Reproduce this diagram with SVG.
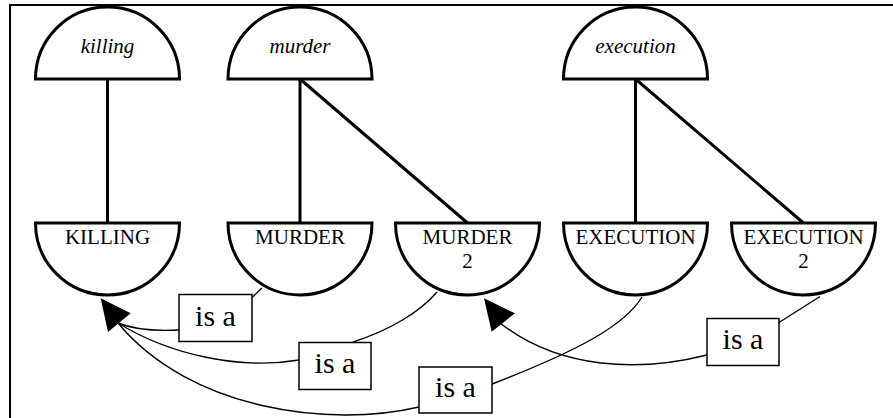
<svg xmlns="http://www.w3.org/2000/svg" width="893" height="418" viewBox="0 0 893 418">
  <style>
    .frame { fill: none; stroke: #000; stroke-width: 2; }
    .half { fill: #fff; stroke: #000; stroke-width: 3; stroke-linejoin: miter; }
    .stem { fill: none; stroke: #000; stroke-width: 3; }
    .link { fill: none; stroke: #000; stroke-width: 1.4; }
    .head { fill: #000; stroke: none; }
    .box { fill: #fff; stroke: #000; stroke-width: 1.5; }
    text { font-family: "Liberation Serif", "Times New Roman", serif; text-anchor: middle; fill: #000; }
    .word { font-style: italic; font-size: 21px; }
    .concept { font-size: 21px; }
    .rel { font-size: 30px; }
  </style>
  <rect width="893" height="418" fill="#fff"/>
  <rect class="frame" x="10" y="5" width="900" height="450"/>

  <!-- structural links between words and concepts -->
  <g id="connectors">
    <line class="stem" x1="107.5" y1="79" x2="107.5" y2="223"/>
    <line class="stem" x1="300" y1="79" x2="300" y2="223"/>
    <line class="stem" x1="300" y1="79" x2="467.5" y2="223"/>
    <line class="stem" x1="635.5" y1="79" x2="635.5" y2="223"/>
    <line class="stem" x1="635.5" y1="79" x2="803.5" y2="223"/>

    <!-- is-a relations -->
    <line class="link" x1="262" y1="288" x2="252" y2="297.5"/>
    <path class="link" d="M 179,330 C 160,331 135,330 118,323"/>
    <path class="link" d="M 437,292 C 420,312 390,330 353,342"/>
    <path class="link" d="M 299,360 C 240,370 170,355 118,323"/>
    <path class="link" d="M 642,297 C 625,325 580,350 492,384"/>
    <path class="link" d="M 419,407 C 330,428 190,410 118,323"/>
    <line class="link" x1="820" y1="296.5" x2="779" y2="322.5"/>
    <path class="link" d="M 707,355 C 640,372 560,370 500,323"/>
    <polygon class="head" points="100.7,298.3 108,332 130.7,313.3"/>
    <polygon class="head" points="484,298.3 491.7,331.7 515,313.3"/>
  </g>

  <!-- word nodes -->
  <g id="word-killing">
    <path class="half" d="M 35.5,79 A 72 72 0 0 1 179.5,79 Z"/>
    <text class="word" font-family="Liberation Serif" x="107.5" y="53">killing</text>
  </g>
  <g id="word-murder">
    <path class="half" d="M 228,79 A 72 72 0 0 1 372,79 Z"/>
    <text class="word" font-family="Liberation Serif" x="300" y="53">murder</text>
  </g>
  <g id="word-execution">
    <path class="half" d="M 563.5,79 A 72 72 0 0 1 707.5,79 Z"/>
    <text class="word" font-family="Liberation Serif" x="635.5" y="53">execution</text>
  </g>

  <!-- concept nodes -->
  <g id="concept-killing">
    <path class="half" d="M 35.5,223 A 72 72 0 0 0 179.5,223 Z"/>
    <text class="concept" font-family="Liberation Serif" x="107.5" y="244">KILLING</text>
  </g>
  <g id="concept-murder">
    <path class="half" d="M 228,223 A 72 72 0 0 0 372,223 Z"/>
    <text class="concept" font-family="Liberation Serif" x="300" y="244">MURDER</text>
  </g>
  <g id="concept-murder2">
    <path class="half" d="M 395.5,223 A 72 72 0 0 0 539.5,223 Z"/>
    <text class="concept" font-family="Liberation Serif" x="467.5" y="244">MURDER</text>
    <text class="concept" font-family="Liberation Serif" x="467.5" y="268">2</text>
  </g>
  <g id="concept-execution">
    <path class="half" d="M 563.5,223 A 72 72 0 0 0 707.5,223 Z"/>
    <text class="concept" font-family="Liberation Serif" x="635.5" y="244">EXECUTION</text>
  </g>
  <g id="concept-execution2">
    <path class="half" d="M 731.5,223 A 72 72 0 0 0 875.5,223 Z"/>
    <text class="concept" font-family="Liberation Serif" x="803.5" y="244">EXECUTION</text>
    <text class="concept" font-family="Liberation Serif" x="803.5" y="268">2</text>
  </g>

  <!-- relation labels -->
  <g id="isa-murder">
    <rect class="box" x="179" y="294.5" width="73" height="47"/>
    <text class="rel" font-family="Liberation Serif" x="215.5" y="326">is a</text>
  </g>
  <g id="isa-murder2">
    <rect class="box" x="299" y="342.5" width="72" height="47"/>
    <text class="rel" font-family="Liberation Serif" x="335" y="373">is a</text>
  </g>
  <g id="isa-execution">
    <rect class="box" x="419" y="367" width="73" height="46"/>
    <text class="rel" font-family="Liberation Serif" x="455.5" y="397">is a</text>
  </g>
  <g id="isa-execution2">
    <rect class="box" x="707" y="318.5" width="72" height="47"/>
    <text class="rel" font-family="Liberation Serif" x="743" y="349">is a</text>
  </g>
</svg>
